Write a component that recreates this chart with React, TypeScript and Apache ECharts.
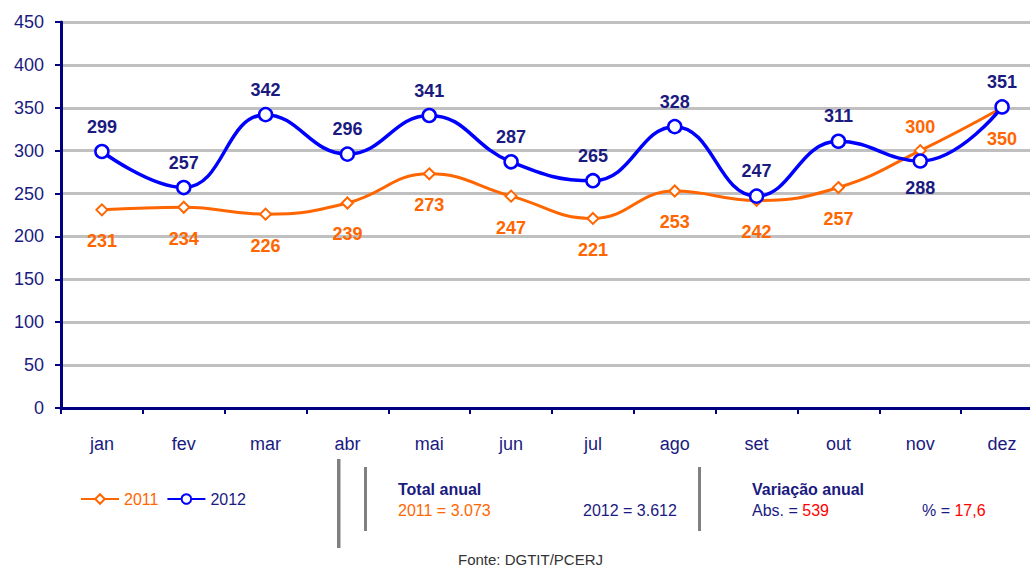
import React, { useEffect, useRef } from "react";
import * as echarts from "echarts";

const months = ["jan", "fev", "mar", "abr", "mai", "jun", "jul", "ago", "set", "out", "nov", "dez"];
const values2011 = [231, 234, 226, 239, 273, 247, 221, 253, 242, 257, 300, 350];
const values2012 = [299, 257, 342, 296, 341, 287, 265, 328, 247, 311, 288, 351];
const labelPos2011 = ["bottom", "bottom", "bottom", "bottom", "bottom", "bottom", "bottom", "bottom", "bottom", "bottom", "top", "bottom"];
const labelPos2012 = ["top", "top", "top", "top", "top", "top", "top", "top", "top", "top", "bottom", "top"];
const yTicks = [0, 50, 100, 150, 200, 250, 300, 350, 400, 450];

const FONT = "'Liberation Sans Narrow', 'Arial Narrow', 'Liberation Sans', Arial, sans-serif";
const NAVY = "#1a1a80";
const ORANGE = "#ff6600";
const BLUE = "#0000ff";

export default function App() {
  const ref = useRef<HTMLDivElement>(null);
  useEffect(() => {
    const chart = echarts.init(ref.current!, null, { renderer: "svg" });
    chart.setOption({
      animation: false,
      textStyle: { fontFamily: FONT },
      grid: { left: 61, right: 0, top: 22, bottom: 160, containLabel: false },
      legend: {
        left: 75,
        top: 486,
        itemWidth: 38,
        itemHeight: 12,
        itemGap: 8,
        textStyle: { fontFamily: FONT, fontSize: 16 },
        data: [
          { name: "2011", textStyle: { color: ORANGE } },
          { name: "2012", textStyle: { color: NAVY } },
        ],
      },
      xAxis: {
        type: "category",
        data: months,
        boundaryGap: true,
        axisLine: { lineStyle: { color: "#000080", width: 3 } },
        axisTick: { show: true, length: 6, lineStyle: { color: "#000080", width: 2 } },
        axisLabel: { color: NAVY, fontSize: 18, fontFamily: FONT, margin: 27 },
      },
      yAxis: {
        type: "value",
        min: yTicks[0],
        max: yTicks[yTicks.length - 1],
        interval: 50,
        axisLine: { show: true, lineStyle: { color: "#000080", width: 3 } },
        axisTick: { show: true, length: 6, lineStyle: { color: "#000080", width: 2 } },
        axisLabel: { color: NAVY, fontSize: 18, fontFamily: FONT, margin: 17 },
        splitLine: { show: true, lineStyle: { color: "#c0c0c0", width: 3 } },
      },
      series: [
        {
          name: "2011",
          type: "line",
          smooth: 0.45,
          data: values2011.map((v, i) => ({
            value: v,
            label: { position: labelPos2011[i], distance: labelPos2011[i] === "top" ? 8 : 16 },
          })),
          lineStyle: { color: ORANGE, width: 3 },
          itemStyle: { color: "#ffffff", borderColor: ORANGE, borderWidth: 2 },
          symbol: "diamond",
          symbolSize: 11,
          label: { show: true, color: ORANGE, fontSize: 18, fontWeight: "bold", fontFamily: FONT },
          z: 2,
        },
        {
          name: "2012",
          type: "line",
          smooth: 0.45,
          data: values2012.map((v, i) => ({
            value: v,
            label: { position: labelPos2012[i], distance: labelPos2012[i] === "top" ? 8 : 10 },
          })),
          lineStyle: { color: BLUE, width: 3.5 },
          itemStyle: { color: "#ffffff", borderColor: BLUE, borderWidth: 2.5 },
          symbol: "circle",
          symbolSize: 13,
          label: { show: true, color: NAVY, fontSize: 18, fontWeight: "bold", fontFamily: FONT },
          z: 3,
        },
      ],
      graphic: [
        { type: "rect", shape: { x: 337, y: 459, width: 3.5, height: 89 }, style: { fill: "#808080" } },
        { type: "rect", shape: { x: 364, y: 467, width: 3, height: 64 }, style: { fill: "#808080" } },
        { type: "rect", shape: { x: 698, y: 467, width: 3, height: 64 }, style: { fill: "#808080" } },
        {
          type: "text", x: 398, y: 481,
          style: { text: "Total anual", fill: NAVY, font: `bold 16px ${FONT}` },
        },
        {
          type: "text", x: 398, y: 502,
          style: { text: "2011 = 3.073", fill: ORANGE, font: `16px ${FONT}` },
        },
        {
          type: "text", x: 583, y: 502,
          style: { text: "2012 = 3.612", fill: NAVY, font: `16px ${FONT}` },
        },
        {
          type: "text", x: 752, y: 481,
          style: { text: "Variação anual", fill: NAVY, font: `bold 16px ${FONT}` },
        },
        {
          type: "text", x: 752, y: 502,
          style: {
            text: "{a|Abs. = }{b|539}",
            font: `16px ${FONT}`,
            rich: {
              a: { fill: NAVY, fontSize: 16, fontFamily: FONT },
              b: { fill: "#ff0000", fontSize: 16, fontFamily: FONT },
            },
          },
        },
        {
          type: "text", x: 922, y: 502,
          style: {
            text: "{a|% = }{b|17,6}",
            font: `16px ${FONT}`,
            rich: {
              a: { fill: NAVY, fontSize: 16, fontFamily: FONT },
              b: { fill: "#ff0000", fontSize: 16, fontFamily: FONT },
            },
          },
        },
        {
          type: "text", x: 458, y: 552,
          style: { text: "Fonte: DGTIT/PCERJ", fill: "#333333", font: `15px ${FONT}` },
        },
      ],
    });
    return () => chart.dispose();
  }, []);
  return (
    <div style={{ position: "fixed", left: 0, top: 0, width: 1030, height: 568, overflow: "hidden", background: "#ffffff" }}>
      <div ref={ref} style={{ position: "absolute", left: 0, top: 0, width: 1043, height: 568 }} />
    </div>
  );
}
